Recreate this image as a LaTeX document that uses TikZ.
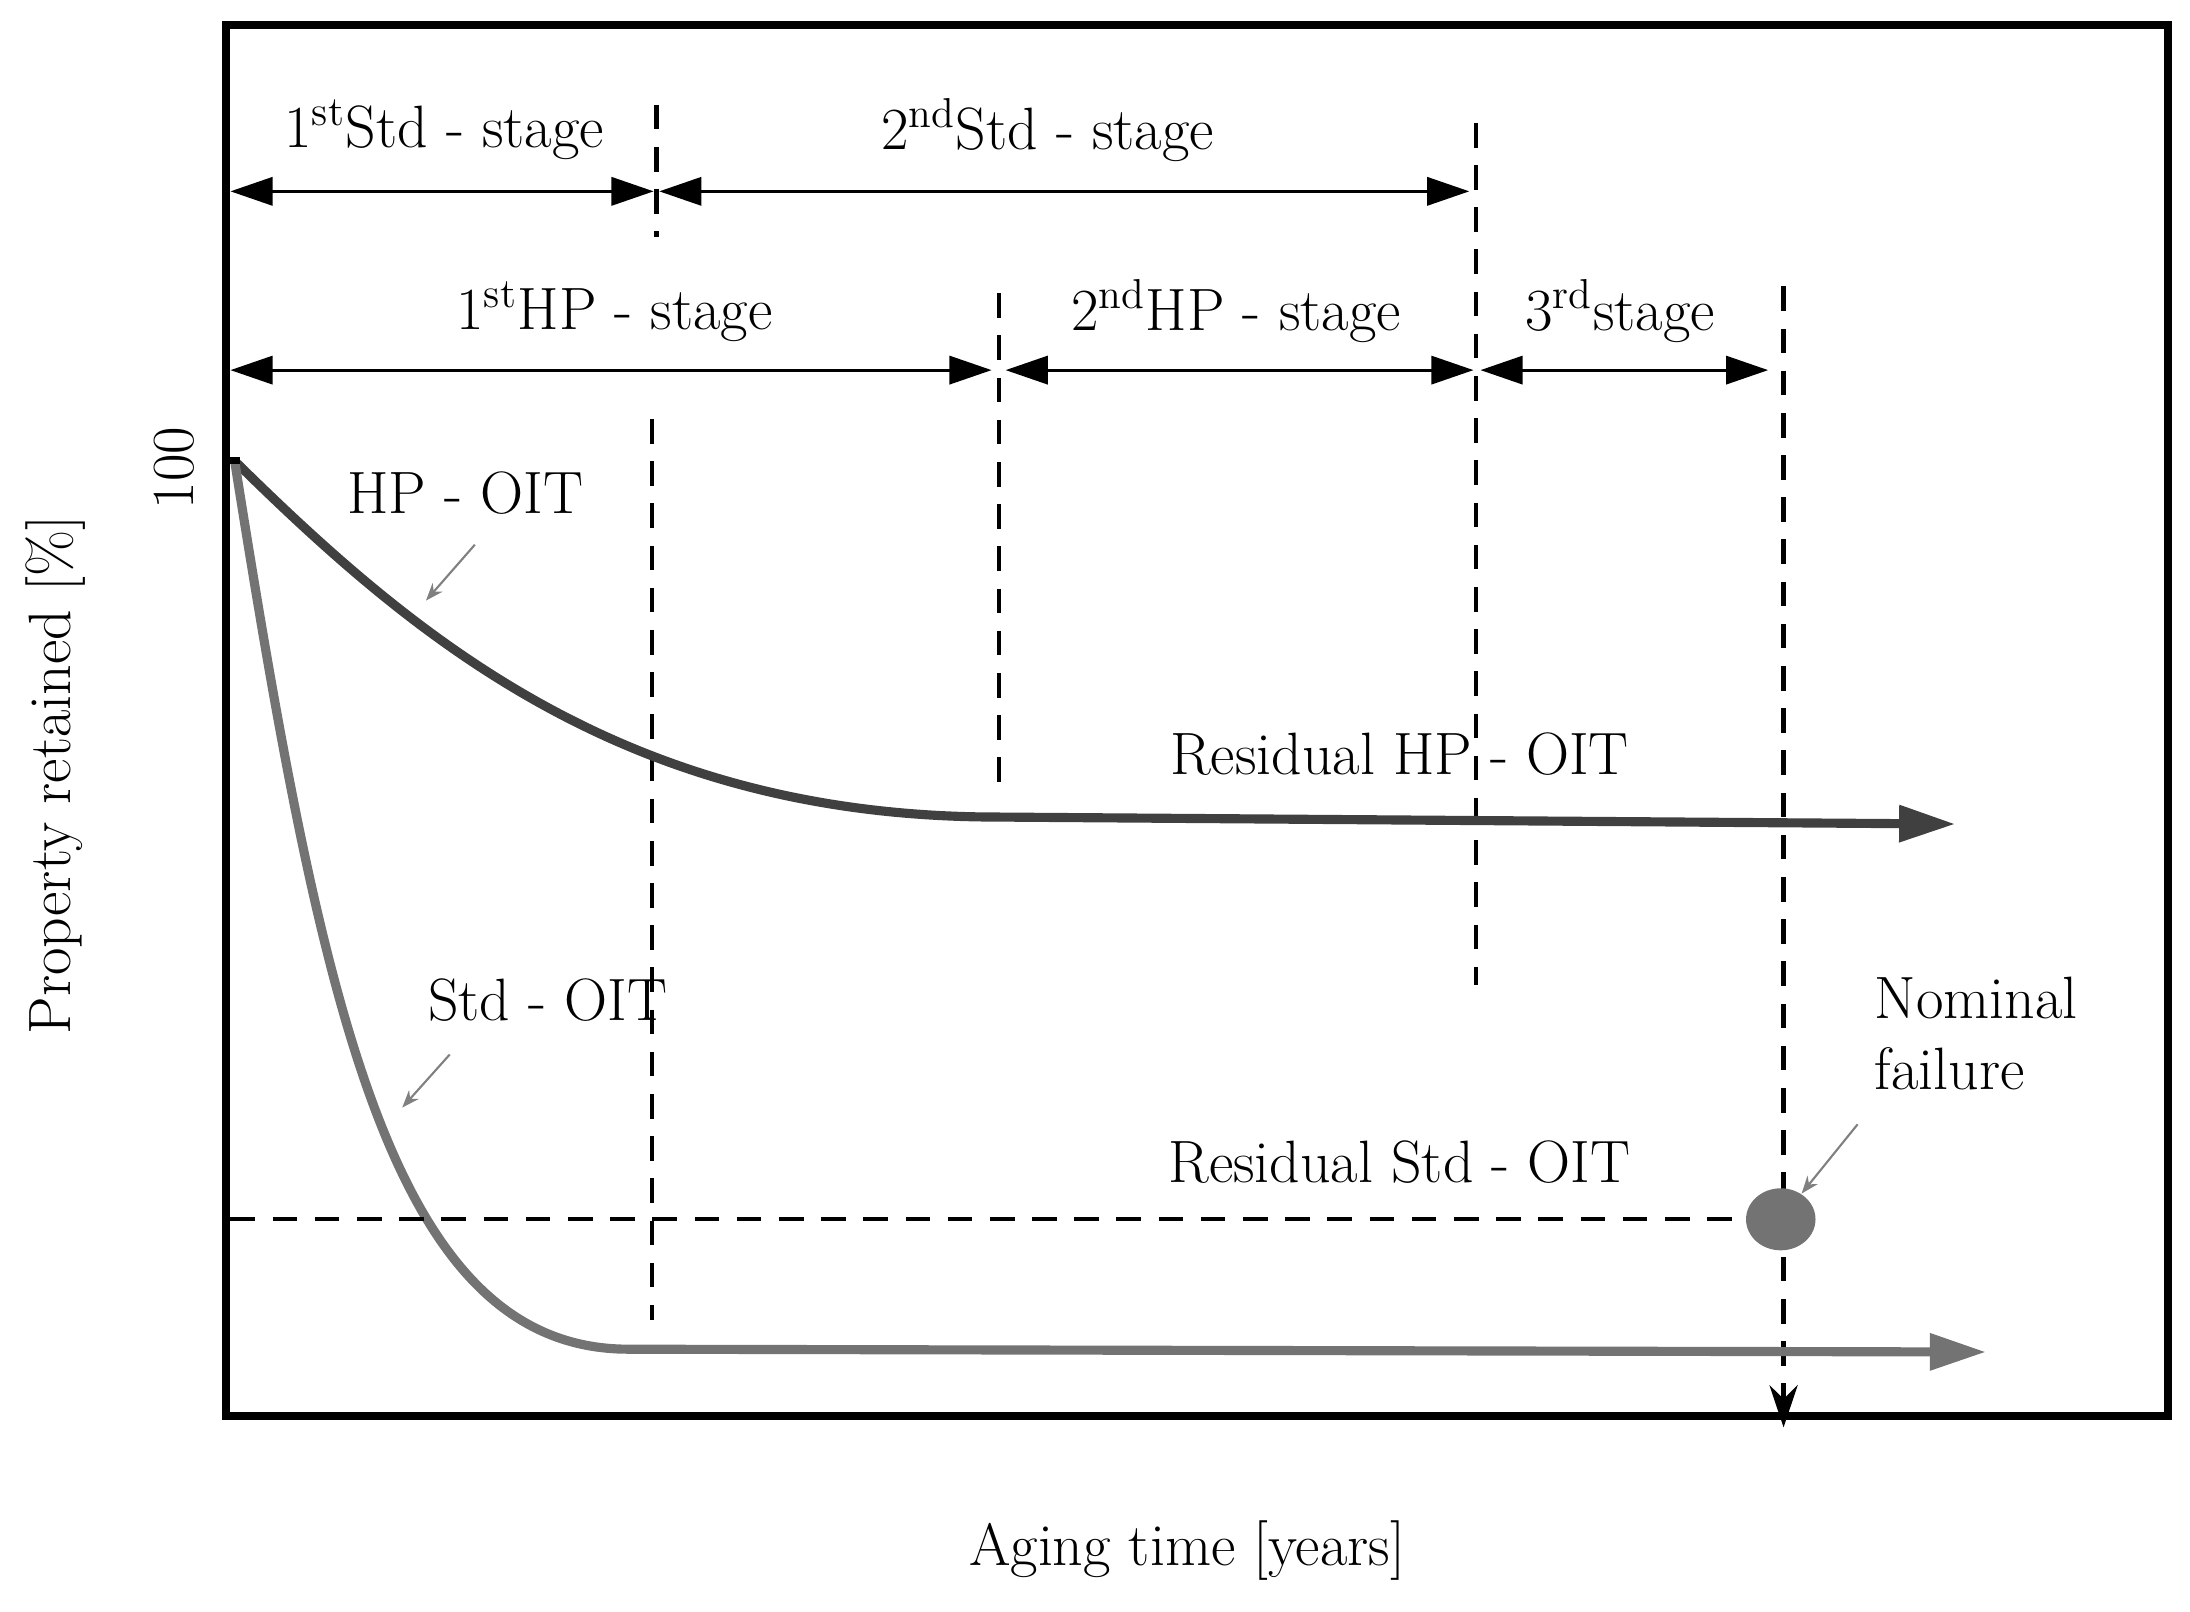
\documentclass[tikz,border=0pt]{standalone}
\usetikzlibrary{arrows.meta}
\begin{document}
\begin{tikzpicture}[x=0.013967cm,y=-0.013967cm,
  lbl/.style={font=\fontsize{17}{20}\selectfont, inner sep=1pt},
  dsh/.style={line width=1.2pt, dash pattern=on 7pt off 5pt},
  dim/.style={line width=0.9pt, {Triangle[length=12pt,width=8pt]}-{Triangle[length=12pt,width=8pt]}},
  ptr/.style={gray, line width=0.6pt, -{Stealth[length=5pt]}}]
\useasboundingbox (0,0) rectangle (1568,1154);
\draw[line width=2.2pt] (162,18) rectangle (1552,1014);
% dashed verticals
\draw[dsh] (470,75) -- (470,170);
\draw[dsh] (1057,88) -- (1057,705);
\draw[dsh] (715,210) -- (715,565);
\draw[dsh] (467,300) -- (467,945);
\coordinate (nfTop) at (1277,205);
\coordinate (nfBot) at (1277,1022);
\draw[dsh,-{Stealth[length=12pt,width=8pt]}] (nfTop) -- (nfBot);
% dimension rows
\coordinate (a1) at (165,137); \coordinate (a2) at (468,137);
\coordinate (a3) at (472,137); \coordinate (a4) at (1052,137);
\draw[dim] (a1) -- (a2);
\draw[dim] (a3) -- (a4);
\node[lbl] (s1) at (318,93) {1\textsuperscript{st}Std - stage};
\node[lbl] (s2) at (750,93) {2\textsuperscript{nd}Std - stage};
\coordinate (b1) at (165,265); \coordinate (b2) at (710,265);
\coordinate (b3) at (720,265); \coordinate (b4) at (1055,265);
\coordinate (b5) at (1060,265); \coordinate (b6) at (1266,265);
\draw[dim] (b1) -- (b2);
\draw[dim] (b3) -- (b4);
\draw[dim] (b5) -- (b6);
\node[lbl] (h1) at (440,223) {1\textsuperscript{st}HP - stage};
\node[lbl] (h2) at (885,223) {2\textsuperscript{nd}HP - stage};
\node[lbl] (h3) at (1160,223) {3\textsuperscript{rd}stage};
% axes labels
\node[lbl,rotate=90] (hundred) at (125,335) {100};
\node[lbl,rotate=90] (ylab) at (40,555) {Property retained [\%]};
\node[lbl] (xlab) at (850,1110) {Aging time [years]};
% curves
\coordinate (o) at (168,330);
\draw[line width=2.6pt, black!75, -{Triangle[length=16pt,width=10pt]}] (o) .. controls (300,460) and (450,585) .. (715,585) -- (1400,590);
\draw[line width=2.6pt, black!55, -{Triangle[length=16pt,width=10pt]}] (o) .. controls (230,720) and (280,966) .. (450,966) -- (1422,968);
\draw[line width=2pt] (162,330) -- (172,330);
% residual std dashed line and failure
\node[circle, fill=black!55, minimum size=0.62cm, inner sep=0pt, xscale=1.12] (fail) at (1275,873) {};
\draw[dsh] (165,873) -- (fail);
% labels
\node[lbl] (hp) at (333,353) {HP - OIT};
\coordinate (hpA) at (340,390); \coordinate (hpB) at (305,430);
\draw[ptr] (hpA) -- (hpB);
\node[lbl] (std) at (392,716) {Std - OIT};
\coordinate (stA) at (322,755); \coordinate (stB) at (288,793);
\draw[ptr] (stA) -- (stB);
\node[lbl] (rhp) at (1002,540) {Residual HP - OIT};
\node[lbl] (rstd) at (1002,832) {Residual Std - OIT};
\node[lbl, align=left] (nf) at (1415,740) {Nominal\\failure};
\coordinate (nfA) at (1330,805);
\draw[ptr] (nfA) -- (fail);
\end{tikzpicture}
\end{document}
